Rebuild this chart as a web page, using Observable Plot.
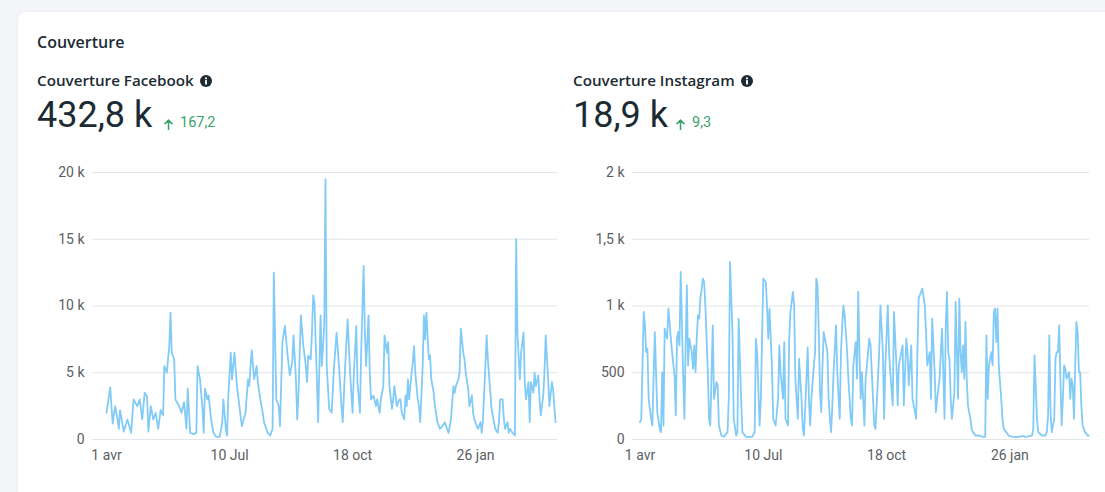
<!DOCTYPE html>
<html>
<head>
<meta charset="utf-8">
<script src="https://cdn.jsdelivr.net/npm/d3@7"></script>
<script src="https://cdn.jsdelivr.net/npm/@observablehq/plot@0.6"></script>
<style>
  html, body { margin: 0; padding: 0; background: #f3f5f8; }
  #page { position: relative; width: 1105px; height: 492px; overflow: hidden; font-family: Roboto, sans-serif; color: #1c2b33; }
  #card { position: absolute; left: 18px; top: 12px; width: 1110px; height: 500px; background: #fff; border-radius: 8px; box-shadow: 0 0 0 1px #eceff3, 0 1px 3px rgba(0,0,0,0.05); }
  .t { position: absolute; white-space: nowrap; line-height: 1; }
  .title { font-family: "Open Sans", sans-serif; font-weight: 600; font-size: 16px; }
  .sub { font-family: "Open Sans", sans-serif; font-weight: 600; font-size: 15.2px; display: flex; align-items: center; }
  .sub svg { margin-left: 6px; }
  .big { font-family: Roboto, sans-serif; font-weight: 400; font-size: 36px; color: #1c2b33; }
  .delta { font-family: Roboto, sans-serif; font-size: 14.5px; color: #3aa36c; display: flex; align-items: flex-end; }
  .delta svg { margin-right: 7px; margin-bottom: 1px; }
  .plot { position: absolute; top: 160px; }
</style>
</head>
<body>
<div id="page">
  <div id="card"></div>
  <div class="t title" style="left:37px;top:34px;">Couverture</div>

  <div class="t sub" style="left:37px;top:73px;">Couverture Facebook<svg width="12" height="12" viewBox="0 0 12 12"><circle cx="6" cy="6" r="6" fill="#1c2b33"/><circle cx="6" cy="3.3" r="1.1" fill="#fff"/><rect x="5.05" y="5" width="1.9" height="4.6" rx="0.5" fill="#fff"/></svg></div>
  <div class="t big" style="left:37px;top:97px;">432,8 k</div>
  <div class="t delta" style="left:164px;top:116px;"><svg width="9" height="11" viewBox="0 0 9 11"><path d="M4.5 10.5V1.2M1 4.6L4.5 1.1L8 4.6" fill="none" stroke="#3aa36c" stroke-width="1.5" stroke-linecap="round" stroke-linejoin="round"/></svg>167,2</div>

  <div class="t sub" style="left:573px;top:73px;">Couverture Instagram<svg width="12" height="12" viewBox="0 0 12 12"><circle cx="6" cy="6" r="6" fill="#1c2b33"/><circle cx="6" cy="3.3" r="1.1" fill="#fff"/><rect x="5.05" y="5" width="1.9" height="4.6" rx="0.5" fill="#fff"/></svg></div>
  <div class="t big" style="left:573px;top:97px;">18,9 k</div>
  <div class="t delta" style="left:676px;top:116px;"><svg width="9" height="11" viewBox="0 0 9 11"><path d="M4.5 10.5V1.2M1 4.6L4.5 1.1L8 4.6" fill="none" stroke="#3aa36c" stroke-width="1.5" stroke-linecap="round" stroke-linejoin="round"/></svg>9,3</div>

  <div id="fb" class="plot" style="left:0px;"></div>
  <div id="ig" class="plot" style="left:540px;"></div>
</div>
<script>
// ---- data (days counted from 1 April) ----
const startDate = "2023-04-01";

const xTickDates = ["2023-04-01", "2023-07-10", "2023-10-18", "2024-01-26"];
const xTickLabels = ["1 avr", "10 Jul", "18 oct", "26 jan"];

const fbYTicks = [0, 5000, 10000, 15000, 20000];
const fbYLabels = ["0", "5 k", "10 k", "15 k", "20 k"];
const igYTicks = [0, 500, 1000, 1500, 2000];
const igYLabels = ["0", "500", "1 k", "1,5 k", "2 k"];

// Couverture Facebook (thousands)
const fbDays = [0,3,5,7,9,10,11,14,17,20,22,25,27,29,31,33,34,36,38,40,42,44,46,47,49,51,52,53,55,56,59,61,63,65,66,68,71,73,74,76,78,79,80,82,83,85,87,89,92,94,95,97,98,99,101,102,104,106,108,110,113,115,116,118,120,122,123,125,127,128,131,133,135,136,138,140,141,143,145,147,149,151,152,154,155,156,158,160,162,163,164,166,167,168,169,171,172,174,175,177,178,179,181,183,185,187,189,191,192,194,196,198,200,201,203,204,206,207,209,210,211,213,214,215,217,219,220,222,223,225,226,228,229,230,232,233,234,236,238,239,240,242,243,244,245,246,248,249,250,251,253,254,255,257,258,259,260,262,263,264,266,267,269,271,273,275,276,278,280,282,283,284,286,287,288,290,291,292,294,295,297,298,299,301,302,304,305,306,308,309,310,312,313,314,316,318,319,320,322,323,324,326,327,328,330,331,332,333,334,336,337,339,340,341,343,344,345,347,348,349,351,352,353,355,356,357,359,360,362,363,364,365];
const fbReachK = [2.0,3.9,1.2,2.5,1.5,0.8,2.2,0.6,1.5,0.5,3.0,2.5,3.0,1.5,3.5,3.2,0.6,2.5,1.5,2.0,0.8,2.2,1.8,5.5,5.0,7.0,9.5,6.5,6.0,3.0,2.5,2.0,2.8,0.8,3.8,0.5,0.4,0.5,5.5,4.5,2.3,0.5,3.8,3.0,3.3,1.5,0.5,0.2,0.2,1.2,3.0,0.8,0.3,3.3,6.5,4.5,6.5,4.0,2.5,1.0,2.0,4.5,4.0,6.7,4.5,5.5,4.3,3.0,2.0,1.3,0.5,0.3,0.8,12.5,3.0,2.5,1.0,7.3,8.5,6.5,4.8,5.8,7.8,4.5,1.5,3.3,9.3,7.0,5.5,4.3,6.3,6.0,8.0,10.8,10.3,4.5,1.3,9.3,5.5,8.5,19.5,5.5,2.3,2.0,5.5,8.0,5.5,2.5,1.3,5.5,9.0,5.0,2.0,4.8,8.5,4.3,2.0,6.5,13.0,8.0,5.5,9.3,5.0,3.0,3.3,2.5,3.0,2.0,3.0,4.0,7.8,6.5,7.3,4.0,2.3,3.0,4.0,2.5,3.0,3.0,2.0,1.5,3.3,2.5,4.5,3.0,5.0,5.8,7.0,5.0,3.0,2.5,1.3,5.5,9.3,7.5,9.5,6.0,6.3,4.5,3.5,2.5,1.3,0.8,1.0,1.3,1.0,0.5,1.5,4.0,3.5,4.0,4.5,5.0,8.3,6.5,6.0,5.0,3.8,2.5,3.3,2.0,1.5,1.0,0.8,1.3,0.5,1.5,5.5,7.8,6.0,3.5,2.3,1.8,0.8,0.5,1.3,3.0,3.0,1.5,0.8,1.3,0.5,0.8,0.5,0.4,0.3,15.0,8.0,4.5,6.5,8.0,4.3,3.0,4.3,1.3,4.3,3.5,5.0,4.0,4.8,3.0,1.8,3.3,5.0,7.8,4.5,2.5,4.3,3.8,2.5,1.3];

// Couverture Instagram
const igDays = [0,1,3,4,5,6,7,9,10,12,13,14,16,17,18,19,20,22,23,24,25,26,28,29,30,31,32,33,35,36,37,38,39,40,42,43,44,45,46,47,48,49,51,52,53,55,56,57,59,60,62,63,64,66,68,71,72,73,75,76,78,79,80,82,83,86,89,91,93,94,95,97,98,100,102,103,104,105,107,108,110,112,113,114,116,117,118,120,121,122,124,125,126,128,129,131,132,133,135,136,137,138,139,141,142,143,144,145,146,147,148,149,151,152,153,154,155,156,157,159,160,162,163,164,165,166,168,169,170,171,172,173,175,176,177,178,179,180,181,182,183,185,186,187,189,190,191,193,194,195,197,198,199,201,202,203,205,206,208,209,210,212,213,214,216,217,218,220,221,222,224,225,226,228,229,231,232,233,235,236,237,239,240,241,243,244,245,246,247,248,249,250,251,252,253,255,256,257,258,259,260,261,262,263,264,265,266,268,269,270,272,275,278,280,281,282,283,285,286,287,288,289,290,291,293,294,295,297,299,302,305,307,310,313,316,318,319,320,322,323,326,329,330,331,332,333,334,336,337,338,339,340,341,342,343,344,345,346,348,349,350,351,352,353,354,355,356,357,358,359,361,363,364];
const igReach = [130,155,955,855,655,680,305,155,105,805,505,205,80,55,505,105,830,755,980,880,755,655,480,180,755,805,705,1255,480,155,705,1155,555,755,655,530,705,505,755,930,905,1055,1205,1180,1005,505,155,105,855,305,430,405,105,30,20,55,305,1330,805,155,30,55,905,305,55,20,20,20,55,755,655,105,305,1205,1180,1005,755,980,555,155,105,305,705,505,305,730,155,105,755,955,1105,1005,455,155,605,305,80,30,455,690,305,105,305,555,655,1205,1155,805,355,205,555,805,705,655,305,155,55,255,505,855,505,155,655,855,1005,930,655,455,305,155,105,555,730,455,1105,655,305,505,305,105,455,655,755,705,305,105,80,455,655,1005,655,155,555,1005,655,505,255,955,555,255,555,655,705,255,755,655,405,705,305,255,155,655,1055,1105,1130,1005,805,555,655,305,905,505,205,305,455,655,830,505,155,855,1105,655,605,305,155,355,1030,655,305,1055,655,505,705,455,880,455,255,155,80,55,30,30,20,20,780,305,555,655,555,955,980,730,980,555,305,155,80,55,30,20,20,20,25,20,25,30,80,630,155,55,30,30,55,180,780,205,55,155,605,655,655,855,455,105,305,555,530,455,505,305,455,405,155,555,880,805,505,505,255,105,55,30,30];

// ---- build ----
const DAY = 864e5;
const base = new Date(startDate).getTime();
const toDate = d => new Date(base + d * DAY);
const xTicks = xTickDates.map(s => new Date(s));
const xLabelMap = new Map(xTicks.map((d, i) => [+d, xTickLabels[i]]));

function panel({days, values, scale, yTicks, yLabels, width, marginRight, d0, d1}) {
  const data = days.map((d, i) => ({date: toDate(d), value: values[i] * scale}));
  const yLabelMap = new Map(yTicks.map((v, i) => [v, yLabels[i]]));
  return Plot.plot({
    width, height: 310,
    marginLeft: 92, marginRight, marginTop: 12, marginBottom: 31,
    style: {fontFamily: "Roboto, sans-serif", fontSize: "14px", color: "#5a5e63", background: "transparent", overflow: "visible"},
    x: {type: "utc", domain: [toDate(d0), toDate(d1)], label: null},
    y: {domain: [0, yTicks[yTicks.length - 1]], label: null},
    marks: [
      Plot.gridY(yTicks, {stroke: "#e3e5e8", strokeOpacity: 1, strokeWidth: 1.2}),
      Plot.axisY(yTicks, {tickSize: 0, tickPadding: 8, tickFormat: v => yLabelMap.get(v), label: null}),
      Plot.axisX(xTicks, {tickSize: 0, tickPadding: 11, tickFormat: d => xLabelMap.get(+d), label: null}),
      Plot.lineY(data, {x: "date", y: "value", stroke: "#82cbf6", strokeWidth: 1.8, strokeLinejoin: "round", curve: "linear"})
    ]
  });
}

document.getElementById("fb").append(panel({
  days: fbDays, values: fbReachK, scale: 1000, yTicks: fbYTicks, yLabels: fbYLabels,
  width: 560, marginRight: 3, d0: -11.4, d1: 366.6
}));
document.getElementById("ig").append(panel({
  days: igDays, values: igReach, scale: 1, yTicks: igYTicks, yLabels: igYLabels,
  width: 555, marginRight: 6, d0: -6.1, d1: 364.6
}));
</script>
</body>
</html>
